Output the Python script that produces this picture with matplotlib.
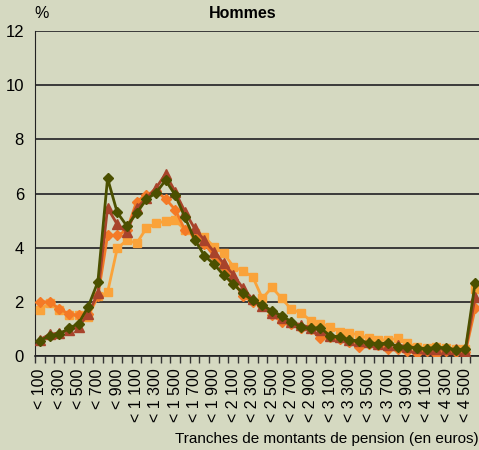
import numpy as np
import matplotlib
matplotlib.use('Agg')
import matplotlib.pyplot as plt

plt.rcParams.update({'font.family': ['Liberation Sans', 'DejaVu Sans'], 'font.size': 11})

# ── Data ──
bounds = list(range(100, 4600, 100))
categories = ["< " + (f"{b // 1000} {b % 1000:03d}" if b >= 1000 else str(b)) for b in bounds] + ["≥ 4 500"]

orange_diam = [2.0, 2.0, 1.75, 1.55, 1.5, 1.55, 2.2, 4.45, 4.45, 4.65,
               5.7, 5.95, 6.1, 5.8, 5.4, 4.65, 4.5, 4.15, 3.7, 3.3,
               2.8, 2.2, 2.0, 1.85, 1.5, 1.27, 1.2, 1.05, 0.98, 0.65,
               0.72, 0.62, 0.5, 0.32, 0.45, 0.4, 0.25, 0.25, 0.2, 0.1,
               0.2, 0.08, 0.2, 0.15, 0.15, 1.76]
light_sq = [1.7, 1.95, 1.7, 1.5, 1.5, 1.45, 2.2, 2.35, 3.97, 4.28,
            4.16, 4.71, 4.9, 4.98, 5.02, 4.65, 4.53, 4.4, 4.03, 3.8,
            3.3, 3.13, 2.93, 2.13, 2.53, 2.13, 1.72, 1.6, 1.3, 1.2,
            1.08, 0.9, 0.86, 0.77, 0.65, 0.6, 0.59, 0.65, 0.47, 0.32,
            0.3, 0.35, 0.3, 0.25, 0.25, 2.46]
red_tri = [0.6, 0.8, 0.85, 0.95, 1.08, 1.55, 2.32, 5.47, 4.86, 4.59,
           5.46, 5.82, 6.2, 6.72, 6.06, 5.33, 4.71, 4.28, 3.85, 3.42,
           3.0, 2.5, 2.1, 1.85, 1.6, 1.4, 1.25, 1.15, 1.05, 0.95,
           0.75, 0.7, 0.6, 0.55, 0.5, 0.45, 0.4, 0.4, 0.35, 0.3,
           0.25, 0.25, 0.25, 0.25, 0.2, 2.19]
olive_diam = [0.56, 0.75, 0.81, 1.02, 1.2, 1.82, 2.74, 6.56, 5.3, 4.8,
              5.27, 5.78, 6.02, 6.49, 5.94, 5.12, 4.3, 3.71, 3.39, 2.99,
              2.66, 2.31, 2.05, 1.88, 1.67, 1.48, 1.27, 1.06, 1.02, 1.05,
              0.74, 0.71, 0.59, 0.55, 0.49, 0.44, 0.49, 0.34, 0.32, 0.3,
              0.27, 0.32, 0.3, 0.23, 0.25, 2.71]

bg = '#D5D9C1'
fig = plt.figure(figsize=(4.79, 4.5), dpi=100, facecolor=bg)
ax = fig.add_axes([35 / 479, 94 / 450, 445 / 479, 325 / 450], facecolor=bg)

x = np.arange(len(categories))
ax.plot(x, light_sq, 's-', color='#FAA33A', lw=2, ms=6, zorder=3)
ax.plot(x, orange_diam, 'D-', color='#F47A26', lw=2, ms=5, zorder=4)
ax.plot(x, red_tri, '^-', color='#A8432B', lw=2, ms=6.5, zorder=5)
ax.plot(x, olive_diam, 'D-', color='#4B5000', lw=2, ms=5, zorder=6)

ax.set_xlim(-0.5, len(categories) - 0.5)
ax.set_ylim(0, 12)
ax.set_yticks(range(0, 13, 2))
ax.yaxis.grid(True, color='#3a3a3a', lw=1.4)
ax.set_axisbelow(True)
ax.tick_params(axis='y', length=0, pad=8, labelsize=12)

# labels every other category, tick marks at category boundaries
ax.set_xticks(x[::2])
ax.set_xticklabels(categories[::2], rotation=90, fontsize=11.5)
ax.tick_params(axis='x', which='major', length=0, pad=9)
ax.set_xticks(np.arange(-0.5, len(categories), 1), minor=True)
ax.tick_params(axis='x', which='minor', length=5, width=1, color='#333333')

for s in ['top', 'right']:
    ax.spines[s].set_visible(False)
ax.spines['left'].set_color('#222222')
ax.spines['bottom'].set_color('#222222')
ax.spines['bottom'].set_linewidth(1.2)

fig.text(243 / 479, 1 - 14 / 450, "Hommes", ha='center', va='center', fontsize=11.5, fontweight='bold')
fig.text(42 / 479, 1 - 13 / 450, "%", ha='center', va='center', fontsize=11.5)
fig.text(1.0, 1 - 439 / 450, "Tranches de montants de pension (en euros)", ha='right', va='center', fontsize=11)

fig.savefig('out.png', dpi=100, facecolor=bg)
